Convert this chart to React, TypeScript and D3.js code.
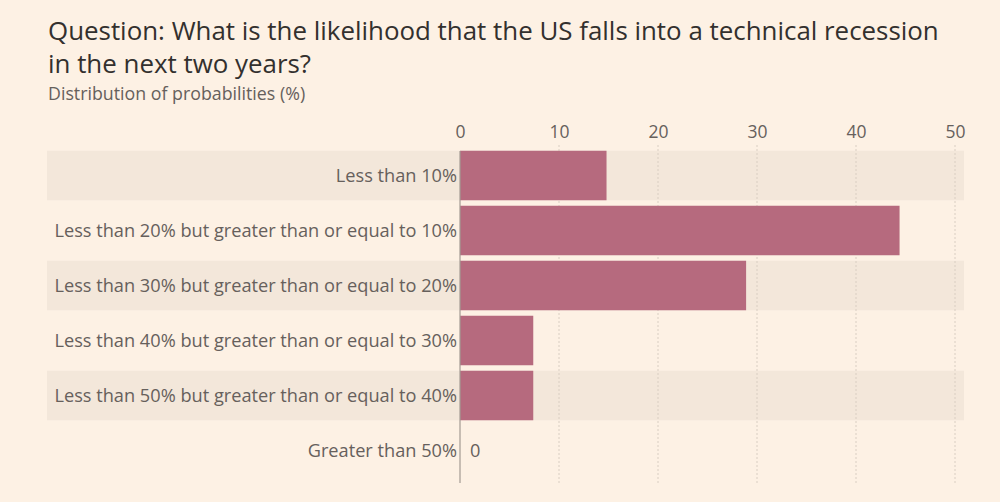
import React, { useEffect, useRef } from 'react'
import * as d3 from 'd3'

const categories = [
  'Less than 10%',
  'Less than 20% but greater than or equal to 10%',
  'Less than 30% but greater than or equal to 20%',
  'Less than 40% but greater than or equal to 30%',
  'Less than 50% but greater than or equal to 40%',
  'Greater than 50%',
]
const values = [14.8, 44.4, 28.9, 7.4, 7.4, 0]
const xTicks = [0, 10, 20, 30, 40, 50]

const W = 1000
const H = 502
const FONT = '"Open Sans", sans-serif'

const App = () => {
  const ref = useRef<SVGSVGElement>(null)

  useEffect(() => {
    const svg = d3.select(ref.current)
    svg.selectAll('*').remove()

    svg.append('rect').attr('width', W).attr('height', H).attr('fill', '#fdf1e4')

    const x = d3.scaleLinear().domain([0, 50]).range([460, 955])
    const y = d3.scaleBand().domain(categories).range([148, 478]).paddingInner(0.1).paddingOuter(0.05)

    // title
    const title = svg.append('g').attr('font-family', FONT)
    title.append('text').attr('x', 48).attr('y', 40).attr('font-size', 25.9).attr('fill', '#33302e')
      .text('Question: What is the likelihood that the US falls into a technical recession')
    title.append('text').attr('x', 48).attr('y', 73).attr('font-size', 25.9).attr('fill', '#33302e')
      .text('in the next two years?')
    title.append('text').attr('x', 48).attr('y', 100).attr('font-size', 17.8).attr('fill', '#66605c')
      .text('Distribution of probabilities (%)')

    // alternating bands
    svg.append('g').selectAll('rect')
      .data(categories.filter((_, i) => i % 2 === 0))
      .enter().append('rect')
      .attr('x', 47).attr('width', 964 - 47)
      .attr('y', d => y(d) as number)
      .attr('height', y.bandwidth())
      .attr('fill', '#f3e7da')

    // gridlines
    svg.append('g').selectAll('line')
      .data(xTicks.slice(1))
      .enter().append('line')
      .attr('x1', d => x(d)).attr('x2', d => x(d))
      .attr('y1', 145).attr('y2', 483)
      .attr('stroke', '#d9cec2').attr('stroke-width', 1).attr('stroke-dasharray', '2,2')

    // axis
    const axis = svg.append('g').attr('transform', 'translate(0,138)').call(d3.axisTop(x).tickValues(xTicks).tickSize(0).tickPadding(0))
    axis.select('.domain').remove()
    axis.selectAll('text').attr('font-family', FONT).attr('font-size', 17.5).attr('fill', '#66605c').attr('dy', 0)

    // bars
    svg.append('g').selectAll('rect')
      .data(values)
      .enter().append('rect')
      .attr('x', x(0))
      .attr('y', (_, i) => y(categories[i]) as number)
      .attr('width', d => x(d) - x(0))
      .attr('height', y.bandwidth())
      .attr('fill', '#b66a7e')

    // zero line
    svg.append('line').attr('x1', x(0)).attr('x2', x(0)).attr('y1', 151).attr('y2', 483)
      .attr('stroke', '#a39b93').attr('stroke-width', 1.2)

    // category labels
    svg.append('g').selectAll('text')
      .data(categories)
      .enter().append('text')
      .attr('x', 457)
      .attr('y', d => (y(d) as number) + y.bandwidth() / 2)
      .attr('dy', '0.35em')
      .attr('text-anchor', 'end')
      .attr('font-family', FONT).attr('font-size', 18.2).attr('fill', '#66605c')
      .text(d => d)

    // zero value label
    svg.append('g').selectAll('text')
      .data(values.map((v, i) => ({ v, c: categories[i] })).filter(d => d.v === 0))
      .enter().append('text')
      .attr('x', d => x(d.v) + 10)
      .attr('y', d => (y(d.c) as number) + y.bandwidth() / 2)
      .attr('dy', '0.35em')
      .attr('font-family', FONT).attr('font-size', 18.2).attr('fill', '#66605c')
      .text(d => String(d.v))
  }, [])

  return <svg ref={ref} width={W} height={H} style={{ display: 'block', position: 'absolute', left: 0, top: 0 }} />
}

export default App
